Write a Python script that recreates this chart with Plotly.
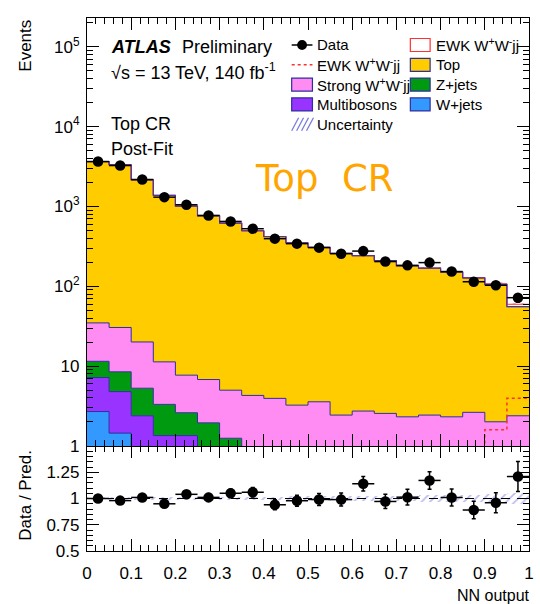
import numpy as np
import plotly.graph_objects as go

# ---- binning: NN output, 20 bins of width 0.05 ----
edges = np.round(np.linspace(0.0, 1.0, 21), 3)
centers = (edges[:-1] + edges[1:]) / 2
half_width = 0.025

# ---- observed data (events per bin) ----
data = [3650, 3254, 2175, 1307, 1050, 772, 649, 526, 395, 342,
        305, 256, 276, 204, 183, 198, 153, 114, 103, 72]

# ---- post-fit predictions per process ----
top = [3615, 3290, 2133, 1365, 1002, 757, 613, 492, 416, 346,
       304, 256, 239, 207, 178, 166, 148.6, 124.6, 103.7, 53.2]
strong_ww = [23.3, 22.0, 14.8, 8.0, 5.1, 4.85, 3.75, 3.45, 3.25, 2.65,
             3.08, 1.99, 2.34, 2.16, 2.02, 2.14, 2.02, 2.44, 1.81, 2.19]
zjets = [4.3, 3.7, 2.9, 1.97, 1.26, 1.25, 0.75, 0.45, 0.35, 0.3,
         0.25, 0.25, 0.2, 0.2, 0.15, 0.15, 0.15, 0.1, 0.1, 0.1]
multibosons = [4.5, 3.35, 2.39, 1.35, 1.35, 0.7, 0.5, 0.4, 0.35, 0.3,
               0.25, 0.2, 0.2, 0.2, 0.15, 0.15, 0.15, 0.1, 0.1, 0.1]
wjets = [2.7, 1.45, 0.0, 0.0, 0.0, 0.0, 0.0, 0.0, 0.0, 0.0,
         0.0, 0.0, 0.0, 0.0, 0.0, 0.0, 0.0, 0.0, 0.0, 0.0]
ewk_ww = [0.03, 0.04, 0.05, 0.06, 0.07, 0.08, 0.1, 0.12, 0.14, 0.17,
          0.2, 0.24, 0.29, 0.35, 0.42, 0.5, 0.62, 0.8, 1.6, 3.95]

# relative post-fit uncertainty on the total prediction
rel_unc = [0.01, 0.01, 0.01, 0.012, 0.012, 0.014, 0.015, 0.016, 0.018, 0.02,
           0.02, 0.022, 0.024, 0.025, 0.028, 0.03, 0.032, 0.035, 0.045, 0.05]

# ---- styles ----
FONT = "Liberation Sans, Arial, Helvetica, sans-serif"
OUTLINE = "#2e2e9e"
COLORS = {
    "wjets": "#3399ff",
    "multi": "#9933ff",
    "zjets": "#009a10",
    "strong": "#ff8cf2",
    "top": "#ffcc00",
    "ewk": "#ffffff",
}
EWK_RED = "#ff3030"
HATCH = "#7b7be0"
MARKER_ORANGE = "#ffa500"

W, H = 540, 604
L, R, T, B = 87, 6, 18, 53
PW, PH = W - L - R, H - T - B
SPLIT = 105 / PH  # ratio panel height fraction


def px(x):
    return (x - L) / PW


def py(y):
    return (H - B - y) / PH


data_a = np.array(data, dtype=float)
pred = (np.array(top) + np.array(strong_ww) + np.array(zjets)
        + np.array(multibosons) + np.array(wjets) + np.array(ewk_ww))
unc = np.array(rel_unc)
ratio = data_a / pred
ratio_err = np.sqrt(data_a) / pred

fig = go.Figure()

# ---- stacked histogram (upper panel) ----
FLOOR = 1e-3
fig.add_trace(go.Scatter(x=edges, y=np.full(len(edges), FLOOR), mode="lines",
                         line=dict(width=0), xaxis="x2", yaxis="y2",
                         hoverinfo="skip", showlegend=False))
stack = [
    (wjets, COLORS["wjets"], OUTLINE),
    (multibosons, COLORS["multi"], OUTLINE),
    (zjets, COLORS["zjets"], OUTLINE),
    (strong_ww, COLORS["strong"], OUTLINE),
    (top, COLORS["top"], OUTLINE),
    (ewk_ww, COLORS["ewk"], EWK_RED),
]
cum = np.zeros(len(centers))
top_cum = None
for vals, fillc, linec in stack:
    cum = cum + np.array(vals, dtype=float)
    yy = np.maximum(np.append(cum, cum[-1]), FLOOR)
    if vals is top:
        top_cum = yy
    fig.add_trace(go.Scatter(x=edges, y=yy, mode="lines",
                             line=dict(shape="hv", color=linec, width=1.0),
                             fill="tonexty", fillcolor=fillc,
                             xaxis="x2", yaxis="y2", hoverinfo="skip",
                             showlegend=False))

# outline of the top-quark contribution, redrawn above the EWK layer
fig.add_trace(go.Scatter(x=edges, y=top_cum, mode="lines",
                         line=dict(shape="hv", color="rgba(60,50,170,0.85)", width=1.2),
                         xaxis="x2", yaxis="y2", hoverinfo="skip", showlegend=False))

# EWK W+W-jj drawn on its own as a dotted line
ewk_a = np.array(ewk_ww, dtype=float)
fig.add_trace(go.Scatter(x=edges, y=np.append(ewk_a, ewk_a[-1]), mode="lines",
                         line=dict(shape="hv", color=EWK_RED, width=1.5, dash="dot"),
                         xaxis="x2", yaxis="y2", hoverinfo="skip", showlegend=False))

hatch_marker = dict(color="rgba(0,0,0,0)", line=dict(width=0),
                    pattern=dict(shape="/", fgcolor=HATCH, size=6, solidity=0.3))

# uncertainty band on the total prediction
fig.add_trace(go.Bar(x=centers, y=2 * unc * pred, base=pred * (1 - unc), width=0.05,
                     marker=hatch_marker, xaxis="x2", yaxis="y2",
                     hoverinfo="skip", showlegend=False))

# data points
fig.add_trace(go.Scatter(x=centers, y=data_a, mode="markers",
                         marker=dict(color="black", size=10.5, symbol="circle"),
                         error_y=dict(type="data", array=np.sqrt(data_a), color="black",
                                      thickness=1.5, width=2),
                         error_x=dict(type="constant", value=half_width, color="black",
                                      thickness=1.5, width=0),
                         xaxis="x2", yaxis="y2", showlegend=False))

# ---- ratio panel ----
fig.add_trace(go.Bar(x=centers, y=2 * unc, base=1 - unc, width=0.05,
                     marker=hatch_marker, xaxis="x", yaxis="y",
                     hoverinfo="skip", showlegend=False))
fig.add_shape(type="line", xref="x", yref="y", x0=0, x1=1, y0=1, y1=1,
              line=dict(color="black", width=1.2, dash="dash"))
fig.add_trace(go.Scatter(x=centers, y=ratio, mode="markers",
                         marker=dict(color="black", size=10.5),
                         error_y=dict(type="data", array=ratio_err, color="black",
                                      thickness=1.5, width=2),
                         error_x=dict(type="constant", value=half_width, color="black",
                                      thickness=1.5, width=0),
                         xaxis="x", yaxis="y", showlegend=False))

# ---- axes ----
tick_font = dict(family=FONT, size=17, color="black")
xcommon = dict(range=[0, 1], tickmode="linear", tick0=0, dtick=0.1,
               ticks="inside", ticklen=12, tickwidth=1, tickcolor="black",
               minor=dict(dtick=0.02, ticks="inside", ticklen=6, tickcolor="black"),
               showline=True, linecolor="black", linewidth=1.2, mirror="allticks",
               showgrid=False, zeroline=False)

log_minor = [m * 10 ** d for d in range(0, 6) for m in range(2, 10)]
fig.update_layout(
    width=W, height=H,
    margin=dict(l=L, r=R, t=T, b=B, pad=0),
    paper_bgcolor="white", plot_bgcolor="white",
    font=dict(family=FONT, color="black"),
    showlegend=False,
    bargap=0,
    xaxis=dict(domain=[0, 1], anchor="y", tickfont=tick_font,
               ticklabelstandoff=6, **xcommon),
    xaxis2=dict(domain=[0, 1], anchor="y2", matches="x", showticklabels=False,
                **xcommon),
    yaxis=dict(domain=[0, SPLIT], anchor="x", range=[0.5, 1.5],
               tickmode="array", tickvals=[0.5, 0.75, 1.0, 1.25, 1.5],
               ticktext=["0.5", "0.75", "1", "1.25", ""],
               ticks="inside", ticklen=12, tickcolor="black", tickfont=tick_font,
               minor=dict(tickmode="linear", tick0=0.5, dtick=0.05, ticks="inside",
                          ticklen=6, tickcolor="black"),
               showline=True, linecolor="black", linewidth=1.2, mirror="allticks",
               showgrid=False, zeroline=False, ticklabelstandoff=3),
    yaxis2=dict(domain=[SPLIT, 1], anchor="x2", type="log", range=[0, 5.36],
                tickmode="array", tickvals=[1, 10, 100, 1e3, 1e4, 1e5],
                ticktext=["1", "10", "10<sup>2</sup>", "10<sup>3</sup>",
                          "10<sup>4</sup>", "10<sup>5</sup>"],
                ticks="inside", ticklen=12, tickcolor="black", tickfont=tick_font,
                minor=dict(tickmode="array", tickvals=log_minor, ticks="inside",
                           ticklen=6, tickcolor="black"),
                showline=True, linecolor="black", linewidth=1.2, mirror="allticks",
                showgrid=False, zeroline=False, ticklabelstandoff=3),
)

# ---- text ----
ann = []


def text(x, y, s, size, xanchor="left", yanchor="middle", color="black",
         angle=0, family=FONT):
    ann.append(dict(x=px(x), y=py(y), xref="paper", yref="paper", text=s,
                    showarrow=False, xanchor=xanchor, yanchor=yanchor,
                    textangle=angle,
                    font=dict(family=family, size=size, color=color)))


text(24, 18, "Events", 17, xanchor="center", yanchor="top", angle=-90)
text(24, 495, "Data / Pred.", 17, xanchor="center", angle=-90)
text(537, 595, "NN output", 16, xanchor="right")

text(109, 47, "<b><i>ATLAS</i></b>", 18)
text(181, 47, "Preliminary", 18)
text(109, 72, "√s = 13 TeV, 140 fb<sup>-1</sup>", 18)
text(109, 124, "Top CR", 18)
text(109, 149, "Post-Fit", 18)

# hand-written style "Top CR" note
text(327, 179, "Top  CR", 37, xanchor="center", color=MARKER_ORANGE,
     family="DejaVu Sans, Noto Sans, sans-serif")

# ---- legend ----
shapes = []
rows = [45 + 19.8 * i for i in range(5)]
LX0, LX1, LTX = 294, 315, 318
RX0, RX1, RTX = 414, 434, 438
BOX_H = 13


def box(x0, x1, yc, fill, line):
    shapes.append(dict(type="rect", xref="paper", yref="paper",
                       x0=px(x0), x1=px(x1), y0=py(yc + BOX_H / 2), y1=py(yc - BOX_H / 2),
                       fillcolor=fill, line=dict(color=line, width=1.2)))


# Data
shapes.append(dict(type="line", xref="paper", yref="paper", x0=px(LX0), x1=px(LX1),
                   y0=py(rows[0]), y1=py(rows[0]), line=dict(color="black", width=1.5)))
shapes.append(dict(type="circle", xref="paper", yref="paper",
                   x0=px(304.5 - 5), x1=px(304.5 + 5), y0=py(rows[0] + 5), y1=py(rows[0] - 5),
                   fillcolor="black", line=dict(color="black", width=0)))
text(LTX, rows[0], "Data", 15)
# EWK dotted
shapes.append(dict(type="line", xref="paper", yref="paper", x0=px(LX0), x1=px(LX1),
                   y0=py(rows[1]), y1=py(rows[1]),
                   line=dict(color=EWK_RED, width=1.5, dash="dot")))
text(LTX, rows[1], "EWK W<sup>+</sup>W<sup>-</sup>jj", 15)
box(LX0, LX1, rows[2], COLORS["strong"], OUTLINE)
text(LTX, rows[2], "Strong W<sup>+</sup>W<sup>-</sup>jj", 15)
box(LX0, LX1, rows[3], COLORS["multi"], OUTLINE)
text(LTX, rows[3], "Multibosons", 15)
# Uncertainty hatch swatch
uy0, uy1 = rows[4] + BOX_H / 2, rows[4] - BOX_H / 2
for k in [0, 5, 10, 15]:
    xa = LX0 + k
    xb = min(xa + 7, LX1 + 1)
    shapes.append(dict(type="line", xref="paper", yref="paper",
                       x0=px(xa), x1=px(xb), y0=py(uy0), y1=py(uy1),
                       line=dict(color=HATCH, width=1.3)))
text(LTX, rows[4], "Uncertainty", 15)

box(RX0, RX1, rows[0], "white", EWK_RED)
text(RTX, rows[0], "EWK W<sup>+</sup>W<sup>-</sup>jj", 15)
box(RX0, RX1, rows[1], COLORS["top"], OUTLINE)
text(RTX, rows[1], "Top", 15)
box(RX0, RX1, rows[2], COLORS["zjets"], OUTLINE)
text(RTX, rows[2], "Z+jets", 15)
box(RX0, RX1, rows[3], COLORS["wjets"], OUTLINE)
text(RTX, rows[3], "W+jets", 15)

fig.update_layout(annotations=ann, shapes=fig.layout.shapes + tuple(shapes))

fig.write_html("out.html")
